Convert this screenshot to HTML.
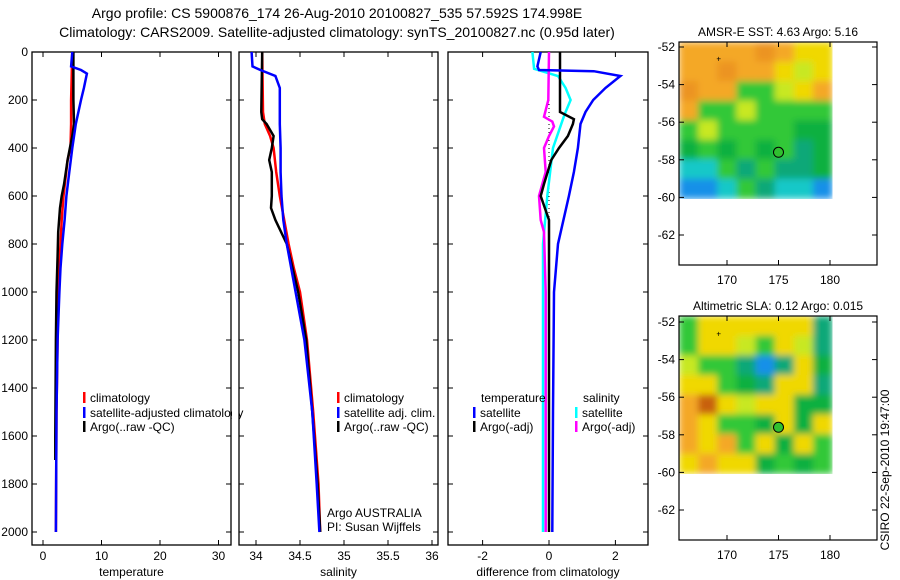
<!DOCTYPE html>
<html><head><meta charset="utf-8"><style>
html,body{margin:0;padding:0;background:#fff;}
svg{display:block;font-family:"Liberation Sans",sans-serif;}
text{fill:#000;}
</style></head><body>
<svg id="chart" width="900" height="580" viewBox="0 0 900 580">
<defs>
<filter id="bl" x="0" y="0" width="1" height="1"><feGaussianBlur stdDeviation="3.5" edgeMode="duplicate"/></filter>
<clipPath id="c1"><rect x="679" y="42" width="153.5" height="157.5"/></clipPath>
<clipPath id="c2"><rect x="679" y="316" width="153.5" height="158"/></clipPath>
</defs>
<text x="337" y="18" font-size="14" text-anchor="middle">Argo profile: CS 5900876_174 26-Aug-2010 20100827_535 57.592S 174.998E</text>
<text x="337" y="37" font-size="14" text-anchor="middle">Climatology: CARS2009. Satellite-adjusted climatology: synTS_20100827.nc (0.95d later)</text>
<g id="g"></g>
</svg>
<script>
// ---- data ----
const depthTicks=[0,200,400,600,800,1000,1200,1400,1600,1800,2000];
const tempTicks=[0,10,20,30];
const salTicks=[34,34.5,35,35.5,36];
const diffTicks=[-2,0,2];
const tClimD=[0,100,200,300,400,450,600,700,800,1000,1200,1500,2000];
const tClimV=[5.0,4.9,4.8,4.8,4.7,4.2,3.5,3.2,3.0,2.6,2.5,2.3,2.2];
const tSatD=[0,60,75,90,150,200,300,400,500,600,700,800,900,1000,1200,1500,2000];
const tSatV=[5.0,4.8,6.5,7.5,7.0,6.5,5.6,5.0,4.5,4.0,3.7,3.3,3.0,2.8,2.5,2.3,2.2];
const tArgD=[0,200,300,350,400,450,550,600,650,750,850,1000,1200,1600,1700];
const tArgV=[5.2,5.2,5.3,5.0,4.6,4.2,3.6,3.2,2.9,2.6,2.5,2.3,2.2,2.1,2.1];
const sClimD=[0,250,300,350,400,500,600,700,800,900,1000,1200,1500,1800,2000];
const sClimV=[34.07,34.08,34.1,34.16,34.2,34.23,34.27,34.32,34.37,34.43,34.5,34.58,34.65,34.71,34.73];
const sSatD=[0,60,75,100,150,200,300,400,500,600,700,800,1000,1200,1500,1800,2000];
const sSatV=[33.95,33.96,34.05,34.22,34.27,34.27,34.27,34.28,34.28,34.29,34.31,34.35,34.45,34.55,34.64,34.69,34.72];
const sArgD=[0,250,280,300,350,400,450,500,600,650,700,800,1000,1200,1500,1800,2000];
const sArgV=[34.07,34.06,34.07,34.12,34.2,34.18,34.15,34.18,34.18,34.17,34.22,34.35,34.48,34.57,34.64,34.7,34.73];
const dTSatD=[0,60,75,80,100,150,200,250,300,400,500,600,800,1000,1500,2000];
const dTSatV=[-0.25,-0.35,-0.3,1.35,2.15,1.7,1.33,1.1,0.95,0.87,0.75,0.6,0.27,0.15,0.12,0.1];
const dTArgD=[0,250,280,300,350,400,450,550,600,700,800,1000,1500,2000];
const dTArgV=[0.33,0.33,0.75,0.72,0.57,0.3,0.07,-0.15,-0.25,0.0,0.0,0.0,0.0,0.0];
const dSSatD=[0,70,100,150,200,250,280,400,600,800,1000,1500,2000];
const dSSatV=[-0.5,-0.45,0.27,0.5,0.65,0.5,0.42,0.12,-0.05,-0.18,-0.18,-0.18,-0.18];
const dSArgD=[0,200,270,290,310,350,400,500,600,700,750,1000,1500,2000];
const dSArgV=[0,-0.02,-0.15,0.1,0.15,0.0,-0.15,-0.1,-0.3,-0.25,-0.15,-0.1,-0.1,-0.1];
const mapLatTicks=[-52,-54,-56,-58,-60,-62];
const mapLonTicks=[170,175,180];
const C={o:"#f4a828",O:"#ec9420",R:"#c86010",y:"#f0d800",Y:"#c8e820",g:"#30c838",G:"#10b040",t:"#10a878",c:"#18c8c8",b:"#1890e8",B:"#0860d8"};
const sstGrid=["ooooOoyy","ooOooyYy","OooggYyo","oggYgggg","gYggggGG","GgGgGgtG","ccgtgttG","bbcgtccb"];
const slaGrid=["gyyyyyyt","gyyYgyYt","YggtbtyG","yygGtyyt","oRyYyyGG","oyggGyGy","oyogyGyg","yoyyGgGg"];
// ---- helpers ----
const NS="http://www.w3.org/2000/svg";const root=document.getElementById('g');
function mk(tag,at,par){const e=document.createElementNS(NS,tag);for(const k in at)e.setAttribute(k,at[k]);(par||root).appendChild(e);return e;}
const top0=52,bot=545;const yD=d=>top0+d*0.24;
function panel(name,x0,x1,xs,ticks,label,fmt){
 const g=mk('g',{});
 
 
 mk('rect',{x:x0,y:top0,width:x1-x0,height:bot-top0,fill:'none',stroke:'#000','stroke-width':1.3},g);
 ticks.forEach(t=>{const x=xs(t);mk('line',{x1:x,x2:x,y1:bot,y2:bot-5,stroke:'#000'},g);mk('line',{x1:x,x2:x,y1:top0,y2:top0+5,stroke:'#000'},g);
  const tx=mk('text',{x:x,y:560,'font-size':12,'text-anchor':'middle'},g);tx.textContent=fmt?fmt(t):t;
  
  });
 depthTicks.forEach(d=>{const y=yD(d);mk('line',{x1:x0,x2:x0+5,y1:y,y2:y,stroke:'#000'},g);mk('line',{x1:x1,x2:x1-5,y1:y,y2:y,stroke:'#000'},g);});
 const lb=mk('text',{x:(x0+x1)/2,y:576,'font-size':12,'text-anchor':'middle'},g);lb.textContent=label;
 
 
 return g;}
function line(g,xs,D,V,col,w,name,dash){const p=D.map((d,i)=>xs(V[i]).toFixed(1)+','+yD(d).toFixed(1)).join(' ');
 const e=mk('polyline',{points:p,fill:'none',stroke:col,'stroke-width':w},g);if(dash)e.setAttribute('stroke-dasharray',dash);
 
 }
function txt(x,y,s,sz,anchor,name){const t=mk('text',{x:x,y:y,'font-size':sz,'text-anchor':anchor||'start'});t.textContent=s;
 
 return t;}
function leg(x,y,col,s,name){mk('rect',{x:x,y:y-10,width:2.5,height:11,fill:col});txt(x+7,y,s,12,'start',name);}
depthTicks.forEach(d=>{txt(28,yD(d)+4,String(d),12,'end','y-tick-label');});
// panel 1
const xT=v=>43+v*5.85;
const p1=panel('temperature-panel',32,231,xT,tempTicks,'temperature');
line(p1,xT,tClimD,tClimV,'#f00',2.5,'temperature-climatology-line');
line(p1,xT,tArgD,tArgV,'#000',2.5,'temperature-argo-line');
line(p1,xT,tSatD,tSatV,'#00f',2.5,'temperature-satellite-line');
leg(83,402,'#f00','climatology','legend-climatology');leg(83,417,'#00f','satellite-adjusted climatology','legend-satellite-adjusted');leg(83,431,'#000','Argo(..raw -QC)','legend-argo');
mk('rect',{x:232,y:390,width:7,height:30,fill:'#fff'});
// panel 2
const xS=v=>256+(v-34)*88;
const p2=panel('salinity-panel',239,438,xS,salTicks,'salinity');
line(p2,xS,sClimD,sClimV,'#f00',2.5,'salinity-climatology-line');
line(p2,xS,sArgD,sArgV,'#000',2.5,'salinity-argo-line');
line(p2,xS,sSatD,sSatV,'#00f',2.5,'salinity-satellite-line');
leg(337,402,'#f00','climatology','legend-sal-climatology');leg(337,417,'#00f','satellite adj. clim.','legend-sal-satellite');leg(337,431,'#000','Argo(..raw -QC)','legend-sal-argo');
txt(327,517,'Argo AUSTRALIA',12,'start','institution-label');txt(327,531,'PI: Susan Wijffels',12,'start','pi-label');
// panel 3
const xF=v=>549+v*33.2;
const p3=panel('difference-panel',448,648,xF,diffTicks,'difference from climatology',t=>t<0?'-'+Math.abs(t):t);
mk('line',{x1:xF(0),x2:xF(0),y1:yD(100),y2:yD(2000),stroke:'#000','stroke-dasharray':'1,3'},p3);
line(p3,xF,dSSatD,dSSatV,'#0ff',2.5,'diff-salinity-satellite-line');
line(p3,xF,dSArgD,dSArgV,'#f0f',2.5,'diff-salinity-argo-line');
line(p3,xF,dTArgD,dTArgV,'#000',2.5,'diff-temperature-argo-line');
line(p3,xF,dTSatD,dTSatV,'#00f',2.5,'diff-temperature-satellite-line');
txt(481,402,'temperature',12,'start','legend-temperature-header');txt(583,402,'salinity',12,'start','legend-salinity-header');
leg(473,417,'#00f','satellite','legend-diff-temp-satellite');leg(473,431,'#000','Argo(-adj)','legend-diff-temp-argo');
leg(575,417,'#0ff','satellite','legend-diff-sal-satellite');leg(575,431,'#f0f','Argo(-adj)','legend-diff-sal-argo');
// maps
function map(name,title,grid,y0,yLat52,yBottom,clip){
 const g=mk('g',{});
 
 
 const pd=18.8;const yL=l=>yLat52+(-52-l)*pd;const xL=l=>727+(l-170)*10.3;
 const gx0=679,gx1=xL(180.2),gy0=y0,gy1=yL(-60.05);
 const nr=grid.length,nc=grid[0].length,cw=(gx1-gx0)/nc,ch=(gy1-gy0)/nr;
 const cg=mk('g',{'clip-path':'url(#'+clip+')'},g);
 const fg=mk('g',{filter:'url(#bl)'},cg);
 grid.forEach((row,r)=>{[...row].forEach((k,c)=>{mk('rect',{x:gx0+c*cw,y:gy0+r*ch,width:cw+0.5,height:ch+0.5,fill:C[k]},fg);});});
 mk('rect',{x:679,y:y0,width:198,height:yBottom-y0,fill:'none',stroke:'#000','stroke-width':1.2},g);
 mapLatTicks.forEach(l=>{const y=yL(l);mk('line',{x1:679,x2:684,y1:y,y2:y,stroke:'#000'},g);mk('line',{x1:877,x2:872,y1:y,y2:y,stroke:'#000'},g);
  const t=mk('text',{x:675,y:y+4,'font-size':12,'text-anchor':'end'},g);t.textContent=String(l);
  
  });
 mapLonTicks.forEach(l=>{const x=xL(l);mk('line',{x1:x,x2:x,y1:yBottom,y2:yBottom-5,stroke:'#000'},g);mk('line',{x1:x,x2:x,y1:y0,y2:y0+5,stroke:'#000'},g);
  const t=mk('text',{x:x,y:yBottom+19,'font-size':12,'text-anchor':'middle'},g);t.textContent=l;
  
  });
 mk('circle',{cx:xL(175),cy:yL(-57.6),r:5,fill:'#30c030',stroke:'#000','stroke-width':1},g);
 mk('text',{x:xL(169.2),y:yL(-52.6)+3,'font-size':8,'text-anchor':'middle'},g).textContent='+';
 const tt=mk('text',{x:778,y:y0-6,'font-size':12,'text-anchor':'middle'},g);tt.textContent=title;
 
 }
map('sst-map','AMSR-E SST: 4.63 Argo: 5.16',sstGrid,42,47,265,'c1');
map('sla-map','Altimetric SLA: 0.12 Argo: 0.015',slaGrid,316,322,540,'c2');
const ct=txt(0,0,'CSIRO 22-Sep-2010 19:47:00',12,'middle','timestamp-label');ct.setAttribute('transform','translate(889,470) rotate(-90)');
</script>
</body></html>
